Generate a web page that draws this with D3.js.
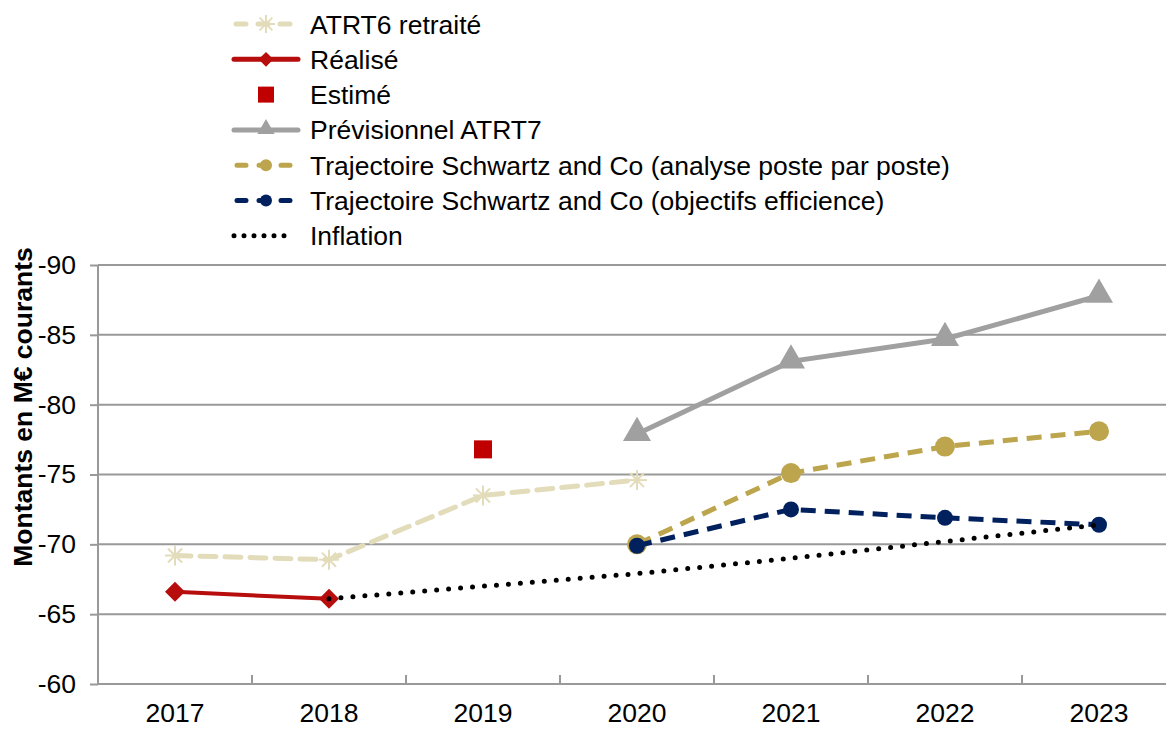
<!DOCTYPE html>
<html><head><meta charset="utf-8">
<script src="https://cdn.jsdelivr.net/npm/d3@7"></script>
<style>body{margin:0;background:#fff}svg{display:block}text{font-family:"Liberation Sans",Arial,sans-serif}</style>
</head><body><svg id="c" width="1166" height="729"></svg>
<script>
const years = ["2017","2018","2019","2020","2021","2022","2023"];
const yTicks = [-90,-85,-80,-75,-70,-65,-60];
const atrt6 = [["2017",-69.2],["2018",-68.9],["2019",-73.5],["2020",-74.6]];
const realise = [["2017",-66.6],["2018",-66.1]];
const estime = [["2019",-76.8]];
const previsionnel = [["2020",-77.9],["2021",-83.1],["2022",-84.7],["2023",-87.8]];
const poste = [["2020",-70.0],["2021",-75.1],["2022",-77.0],["2023",-78.1]];
const efficience = [["2020",-69.9],["2021",-72.5],["2022",-71.9],["2023",-71.4]];
const inflation = [["2018",-66.1],["2019",-67.0],["2020",-67.9],["2021",-69.0],["2022",-70.2],["2023",-71.4]];
const legendLabels = ["ATRT6 retraité","Réalisé","Estimé","Prévisionnel ATRT7","Trajectoire Schwartz and Co (analyse poste par poste)","Trajectoire Schwartz and Co (objectifs efficience)","Inflation"];

(function(){
const FS = 26.5;
const svg = d3.select("#c");
const pL = 98, pR = 1176, pT = 265, pB = 684;
const x = d3.scaleBand().domain(years).range([pL, pR]);
const y = d3.scaleLinear().domain([-60,-90]).range([pB, pT]);
const cx = d => x(d[0]) + x.bandwidth()/2, cy = d => y(d[1]);

svg.append("g").selectAll("line").data(yTicks).join("line")
  .attr("x1", pL).attr("x2", 1166).attr("y1", d=>y(d)).attr("y2", d=>y(d))
  .attr("stroke", "#999").attr("stroke-width", 2);
const ya = svg.append("g").attr("transform", `translate(${pL},0)`)
  .call(d3.axisLeft(y).tickValues(yTicks).tickSize(8).tickPadding(14).tickFormat(d=>d));
ya.select(".domain").attr("stroke","#999").attr("stroke-width",2).attr("d",`M0,${pT}V${pB}`);
ya.selectAll(".tick line").attr("stroke","#999").attr("stroke-width",2);
ya.selectAll(".tick text").attr("font-size",FS).attr("fill","#000").attr("font-family","Liberation Sans, Arial, sans-serif");
const xa = svg.append("g").attr("transform", `translate(0,${pB})`)
  .call(d3.axisBottom(x).tickSize(0).tickPadding(19));
xa.select(".domain").remove();
xa.selectAll(".tick text").attr("font-size",FS).attr("fill","#000").attr("font-family","Liberation Sans, Arial, sans-serif");
svg.append("g").selectAll("line").data(years.slice(1)).join("line")
  .attr("x1", d=>x(d)).attr("x2", d=>x(d)).attr("y1", pB).attr("y2", pB-9)
  .attr("stroke","#999").attr("stroke-width",2);
svg.append("line").attr("x1",pL).attr("x2",1166).attr("y1",pB).attr("y2",pB).attr("stroke","#999").attr("stroke-width",2);

svg.append("text").attr("transform","translate(32,407) rotate(-90)").attr("text-anchor","middle")
  .attr("font-size",FS).attr("font-weight","bold").text("Montants en M€ courants");

const line = d3.line().x(cx).y(cy);
const C = {atrt6:"#e3dcba", real:"#b70d0d", est:"#c00000", prev:"#a0a0a0", poste:"#bca54c", eff:"#00205e"};

function star(g, px, py, s, col){
  for (let a=0;a<4;a++){
    const ang = a*Math.PI/4;
    g.append("line").attr("x1",px-s*Math.cos(ang)).attr("y1",py-s*Math.sin(ang))
      .attr("x2",px+s*Math.cos(ang)).attr("y2",py+s*Math.sin(ang)).attr("stroke",col).attr("stroke-width",2);
  }
}
const sym = (type,size)=>d3.symbol().type(type).size(size)();

const g1 = svg.append("g");
g1.append("path").datum(atrt6).attr("d",line).attr("fill","none").attr("stroke",C.atrt6)
  .attr("stroke-width",5).attr("stroke-dasharray","16,9").attr("stroke-linecap","round");
atrt6.forEach(d=>star(g1,cx(d),cy(d),10,C.atrt6));
const g2 = svg.append("g");
g2.append("path").datum(realise).attr("d",line).attr("fill","none").attr("stroke",C.real).attr("stroke-width",4);
g2.selectAll("path.m").data(realise).join("path").attr("class","m")
  .attr("d",sym(d3.symbolSquare,200)).attr("transform",d=>`translate(${cx(d)},${cy(d)}) rotate(45)`).attr("fill",C.real);
svg.append("g").selectAll("rect").data(estime).join("rect")
  .attr("x",d=>cx(d)-9).attr("y",d=>cy(d)-9).attr("width",18).attr("height",18).attr("fill",C.est);
const g4 = svg.append("g");
g4.append("path").datum(previsionnel).attr("d",line).attr("fill","none").attr("stroke",C.prev).attr("stroke-width",5);
g4.selectAll("path.m").data(previsionnel).join("path").attr("class","m")
  .attr("d",sym(d3.symbolTriangle,340)).attr("transform",d=>`translate(${cx(d)},${cy(d)-1})`).attr("fill",C.prev);
const g5 = svg.append("g");
g5.append("path").datum(poste).attr("d",line).attr("fill","none").attr("stroke",C.poste)
  .attr("stroke-width",5).attr("stroke-dasharray","15,9");
g5.selectAll("circle").data(poste).join("circle").attr("cx",cx).attr("cy",cy).attr("r",10).attr("fill",C.poste);
const g6 = svg.append("g");
g6.append("path").datum(efficience).attr("d",line).attr("fill","none").attr("stroke",C.eff)
  .attr("stroke-width",5).attr("stroke-dasharray","15,9");
g6.selectAll("circle").data(efficience).join("circle").attr("cx",cx).attr("cy",cy).attr("r",8).attr("fill",C.eff);
svg.append("path").datum(inflation).attr("d",line).attr("fill","none").attr("stroke","#000")
  .attr("stroke-width",5).attr("stroke-dasharray","0,12").attr("stroke-linecap","round");

const lg = svg.append("g");
const lx0 = 234, lx1 = 298, lmx = 266, ly0 = 24, ldy = 35.3;
legendLabels.forEach((t,i)=>{
  const yy = ly0 + i*ldy;
  lg.append("text").attr("x",310).attr("y",yy+9.5).attr("font-size",FS).text(t);
  const ln = lg.append("line").attr("x1",lx0).attr("x2",lx1).attr("y1",yy).attr("y2",yy).attr("fill","none");
  if (i===0){ ln.attr("stroke",C.atrt6).attr("stroke-width",5).attr("stroke-dasharray","10,12").attr("stroke-linecap","round").attr("x1",lx0+2).attr("x2",lx1-2); star(lg,lmx,yy,9,C.atrt6);}
  if (i===1){ ln.attr("stroke",C.real).attr("stroke-width",5).attr("stroke-linecap","round");
    lg.append("path").attr("d",sym(d3.symbolSquare,110)).attr("transform",`translate(${lmx},${yy}) rotate(45)`).attr("fill",C.real);}
  if (i===2){ ln.remove(); lg.append("rect").attr("x",lmx-8).attr("y",yy-8).attr("width",16).attr("height",16).attr("fill",C.est);}
  if (i===3){ ln.attr("stroke",C.prev).attr("stroke-width",5).attr("stroke-linecap","round");
    lg.append("path").attr("d",sym(d3.symbolTriangle,130)).attr("transform",`translate(${lmx},${yy-1})`).attr("fill",C.prev);}
  if (i===4 || i===5){ const col = i===4?C.poste:C.eff;
    ln.attr("stroke",col).attr("stroke-width",5).attr("stroke-dasharray","9,13").attr("stroke-linecap","round").attr("x1",lx0+3).attr("x2",lx1-3);
    lg.append("circle").attr("cx",lmx).attr("cy",yy).attr("r",6).attr("fill",col);}
  if (i===6){ ln.attr("stroke","#000").attr("stroke-width",5).attr("stroke-dasharray","0,10").attr("stroke-linecap","round").attr("x1",lx0).attr("x2",lx1-6);}
});
})();
</script></body></html>
